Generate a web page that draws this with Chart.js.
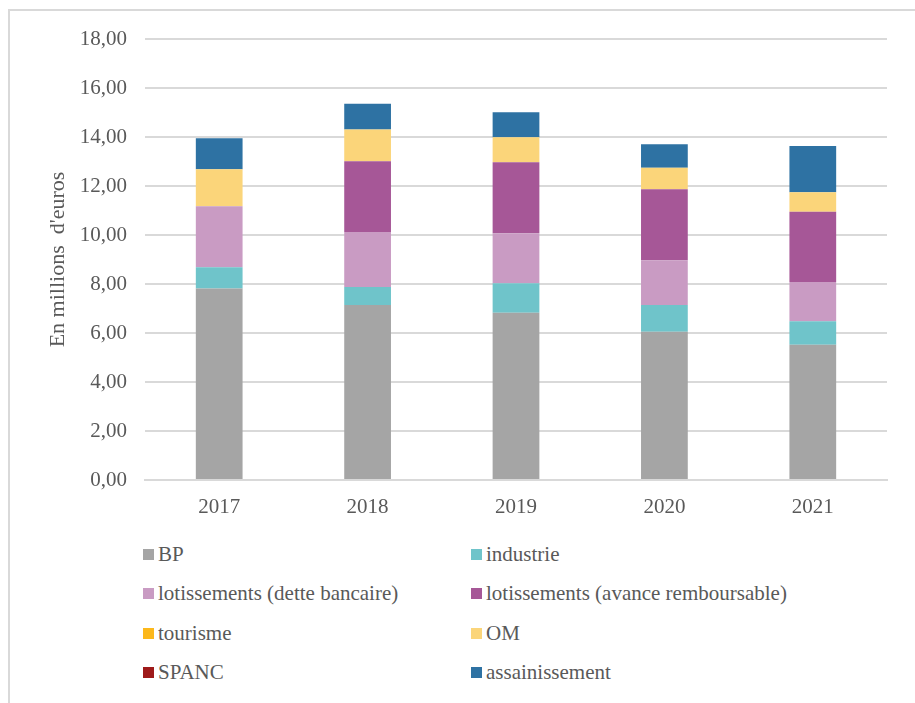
<!DOCTYPE html>
<html>
<head>
<meta charset="utf-8">
<script src="https://cdn.jsdelivr.net/npm/chart.js@4"></script>
<style>
  body { margin: 0; background: #fff; }
  #frame {
    position: absolute; left: 8px; top: 9px; width: 920px; height: 700px;
    border-left: 2px solid #d9d9d9; border-top: 2px solid #d9d9d9;
  }
  #wrap { position: absolute; left: 0; top: 0; width: 915px; height: 530px; }
  #legend {
    position: absolute; left: 143px; top: 535px;
    display: grid; grid-template-columns: 328px 400px; grid-auto-rows: 39.3px;
    font-family: "Liberation Serif", "Times New Roman", serif; font-size: 21px; color: #595959;
  }
  .item { display: flex; align-items: center; white-space: nowrap; }
  .box { width: 11px; height: 11px; margin-right: 4px; }
</style>
</head>
<body>
<div id="frame"></div>
<div id="wrap"><canvas id="chart"></canvas></div>
<div id="legend"></div>
<script>
// années
const years = ["2017", "2018", "2019", "2020", "2021"];

// encours de dette par budget (millions d'euros)
const bp = [7.82, 7.14, 6.83, 6.05, 5.52];
const industrie = [0.86, 0.74, 1.20, 1.09, 0.96];
const detteBancaire = [2.49, 2.24, 2.04, 1.83, 1.60];
const avanceRemb = [0, 2.89, 2.90, 2.90, 2.87];
const tourisme = [0, 0, 0, 0, 0];
const om = [1.51, 1.30, 1.02, 0.88, 0.79];
const spanc = [0, 0, 0, 0, 0];
const assainissement = [1.27, 1.05, 1.02, 0.95, 1.89];

const yTicks = [0, 2, 4, 6, 8, 10, 12, 14, 16, 18];

const font = "'Liberation Serif', 'Times New Roman', serif";

const series = [
    { label: "BP", data: bp, color: "#a5a5a5" },
    { label: "industrie", data: industrie, color: "#6fc4ca" },
    { label: "lotissements (dette bancaire)", data: detteBancaire, color: "#c99bc3" },
    { label: "lotissements (avance remboursable)", data: avanceRemb, color: "#a65797" },
    { label: "tourisme", data: tourisme, color: "#fcb81b" },
    { label: "OM", data: om, color: "#fbd57a" },
    { label: "SPANC", data: spanc, color: "#9e1a1a" },
    { label: "assainissement", data: assainissement, color: "#2e72a3" }
];

const chart = new Chart(document.getElementById("chart"), {
    type: "bar",
    data: {
        labels: years,
        datasets: series.map(s => ({
            label: s.label,
            data: s.data,
            backgroundColor: s.color,
            categoryPercentage: 1,
            barPercentage: 0.315
        }))
    },
    options: {
        responsive: true,
        maintainAspectRatio: false,
        animation: false,
        layout: { padding: { left: 45, top: 39, right: 28, bottom: 0 } },
        plugins: { legend: { display: false }, tooltip: { enabled: false } },
        scales: {
            x: {
                stacked: true,
                grid: { display: false },
                border: { color: "#d9d9d9", width: 2 },
                ticks: { color: "#595959", font: { family: font, size: 21 }, padding: 7 },
                afterFit: s => { s.height = 50; }
            },
            y: {
                stacked: true,
                min: 0,
                max: 18,
                afterBuildTicks: s => { s.ticks = yTicks.map(v => ({ value: v })); },
                grid: { color: "#d9d9d9", lineWidth: 2, drawTicks: false },
                border: { display: false },
                ticks: {
                    color: "#595959",
                    font: { family: font, size: 21 },
                    padding: 18,
                    callback: v => v.toFixed(2).replace(".", ",")
                },
                title: {
                    display: true,
                    text: "En millions  d'euros",
                    color: "#595959",
                    font: { family: font, size: 22 },
                    padding: 0
                },
                afterFit: s => { s.width = 100; }
            }
        }
    }
});

// légende sur deux colonnes
const legend = document.getElementById("legend");
chart.data.datasets.forEach(ds => {
    const item = document.createElement("div");
    item.className = "item";
    const box = document.createElement("span");
    box.className = "box";
    box.style.background = ds.backgroundColor;
    item.appendChild(box);
    item.appendChild(document.createTextNode(ds.label));
    legend.appendChild(item);
});
</script>
</body>
</html>
